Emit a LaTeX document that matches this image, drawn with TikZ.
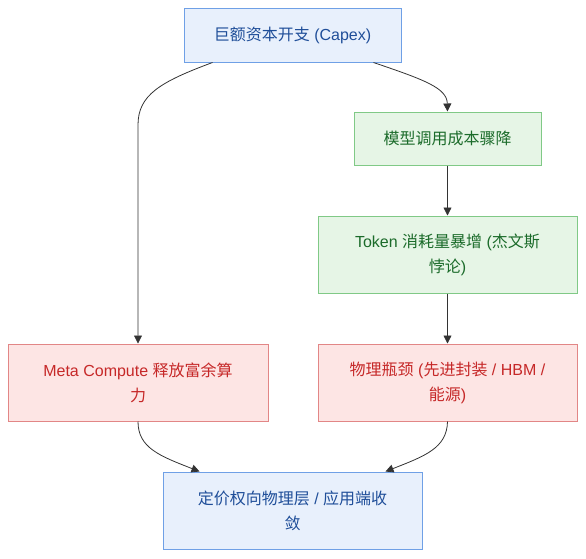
\documentclass[tikz,border=0pt]{standalone}
\usepackage{fontspec}
\setmainfont{Liberation Sans}
\newfontfamily\cjk{Noto Sans CJK SC}
\usetikzlibrary{arrows.meta}
\definecolor{bluefill}{HTML}{E8F0FC}
\definecolor{blueline}{HTML}{6FA0E6}
\definecolor{bluetext}{HTML}{1F4E99}
\definecolor{greenfill}{HTML}{E6F5E6}
\definecolor{greenline}{HTML}{80C986}
\definecolor{greentext}{HTML}{1B6B2A}
\definecolor{redfill}{HTML}{FDE5E4}
\definecolor{redline}{HTML}{E28686}
\definecolor{redtext}{HTML}{C62828}
\definecolor{edgecol}{HTML}{333333}

\begin{document}
\begin{tikzpicture}[x=1pt,y=-1pt,line width=1pt,
    box/.style={draw,rectangle,align=center,font=\fontsize{16}{25}\selectfont,inner sep=0pt},
    bluebox/.style={box,fill=bluefill,draw=blueline,text=bluetext},
    greenbox/.style={box,fill=greenfill,draw=greenline,text=greentext},
    redbox/.style={box,fill=redfill,draw=redline,text=redtext},
    flow/.style={draw=edgecol,line width=0.8pt,-{Triangle[length=8pt,width=8pt]}}]
  \useasboundingbox (0,0) rectangle (586,558);
  % nodes
  \node[bluebox,minimum width=217pt,minimum height=54pt] (capex) at (292.5,35) {{\cjk 巨额资本开支} (Capex)};
  \node[greenbox,minimum width=187pt,minimum height=53pt] (cost) at (447.5,138.5) {\cjk 模型调用成本骤降};
  \node[greenbox,minimum width=259pt,minimum height=77pt] (token) at (447.5,254.5) {Token {\cjk 消耗量暴增} ({\cjk 杰文斯}\\{\cjk 悖论})};
  \node[redbox,minimum width=260pt,minimum height=77pt] (meta) at (138,382.5) {Meta Compute {\cjk 释放富余算}\\{\cjk 力}};
  \node[redbox,minimum width=259pt,minimum height=77pt] (phys) at (447.5,382.5) {{\cjk 物理瓶颈} ({\cjk 先进封装} / HBM /\\{\cjk 能源})};
  \node[bluebox,minimum width=259pt,minimum height=77pt] (price) at (292.5,510.5) {{\cjk 定价权向物理层} / {\cjk 应用端收}\\{\cjk 敛}};
  % edges
  \draw[flow] ([xshift=29pt]capex.south west) .. controls (160,82) and (138,95) .. (138,125) -- (meta.north);
  \draw[flow] ([xshift=-28pt]capex.south east) .. controls (425,80) and (447,88) .. (cost.north);
  \draw[flow] (cost) -- (token);
  \draw[flow] (token) -- (phys);
  \draw[flow] (meta.south) .. controls (138,448) and (160,456) .. ([xshift=37pt]price.north west);
  \draw[flow] (phys.south) .. controls (447,448) and (425,456) .. ([xshift=-37pt]price.north east);
\end{tikzpicture}
\end{document}
